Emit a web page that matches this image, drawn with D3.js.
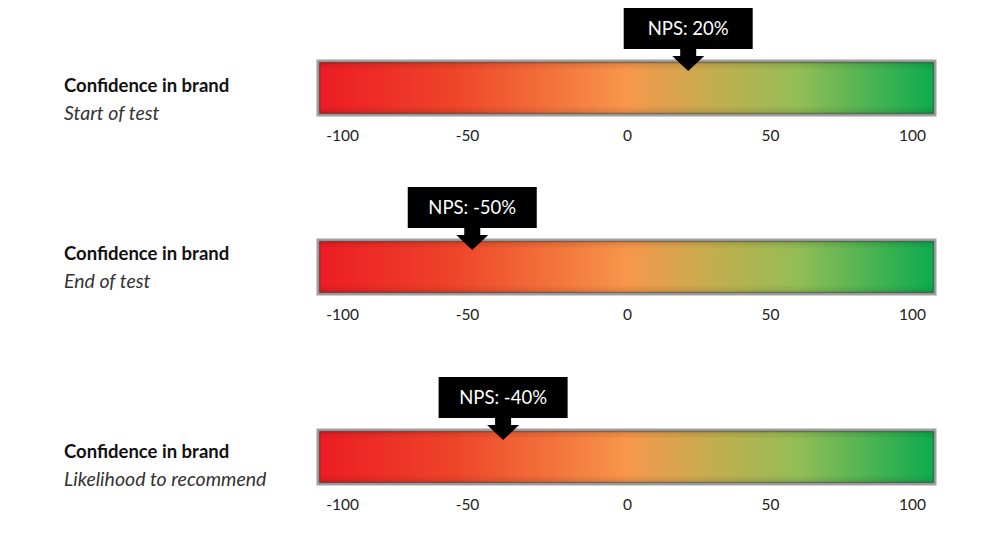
<!DOCTYPE html>
<html>
<head>
<meta charset="utf-8">
<script src="https://cdn.jsdelivr.net/npm/d3@7"></script>
<style>
  body { margin: 0; background: #fff; }
  svg { display: block; font-family: Lato, "Open Sans", sans-serif; }
</style>
</head>
<body>
<svg id="canvas"></svg>
<script>
// data
const titles = ['Confidence in brand', 'Confidence in brand', 'Confidence in brand'];
const subtitles = ['Start of test', 'End of test', 'Likelihood to recommend'];
const npsValues = [20, -50, -40];
const tickValues = [-100, -50, 0, 50, 100];

// layout
let w = 1000;
let h = 542;
const barLeft = 318, barRight = 935, barH = 54;
const rowTop = d3.scaleOrdinal().domain([0, 1, 2]).range([61, 240, 430]);
const titleY = d3.scaleOrdinal().domain([0, 1, 2]).range([92, 260, 458]);

let canvas = d3.select('#canvas').attr('width', w).attr('height', h);

// marker scale follows the bar; tick labels were hand placed in the original
let xScale = d3.scaleLinear().domain([-100, 100]).range([barLeft, barRight]);
let labelScale = d3.scaleLinear().domain(tickValues).range([342, 467, 627, 770, 912]);

// gradient red -> orange -> green
let defs = canvas.append('defs');
let grad = defs.append('linearGradient').attr('id', 'npsGrad')
  .attr('x1', '0%').attr('x2', '100%').attr('y1', '0%').attr('y2', '0%');
[[0, '#ec1c24'], [0.22, '#ee4429'], [0.5, '#f7964a'], [0.64, '#c4ae4f'],
 [0.78, '#92bd56'], [1, '#0bab4f']].forEach(s => {
  grad.append('stop').attr('offset', s[0]).attr('stop-color', s[1]);
});
let shade = defs.append('linearGradient').attr('id', 'shade')
  .attr('x1', '0%').attr('x2', '0%').attr('y1', '0%').attr('y2', '100%');
[[0, 0.12], [0.15, 0], [0.85, 0], [1, 0.12]].forEach(s => {
  shade.append('stop').attr('offset', s[0]).attr('stop-color', '#000').attr('stop-opacity', s[1]);
});

let rows = canvas.selectAll('g.row')
  .data(npsValues)
  .enter()
  .append('g')
  .attr('class', 'row');

rows.each(function(v, i) {
  let g = d3.select(this);
  let top = rowTop(i);

  // labels on the left
  g.append('text')
    .attr('x', 64).attr('y', titleY(i))
    .attr('font-size', 18.5).attr('font-weight', 'bold').attr('fill', '#111')
    .text(titles[i]);
  g.append('text')
    .attr('x', 64).attr('y', titleY(i) + 28)
    .attr('font-size', 19.5).attr('font-style', 'italic').attr('fill', '#333')
    .text(subtitles[i]);

  // bar
  g.append('rect')
    .attr('x', barLeft).attr('y', top)
    .attr('width', barRight - barLeft).attr('height', barH)
    .attr('fill', 'url(#npsGrad)')
    .attr('stroke', '#a0a0a0').attr('stroke-width', 3);
  g.append('rect')
    .attr('x', barLeft + 1.5).attr('y', top + 1.5)
    .attr('width', barRight - barLeft - 3).attr('height', barH - 3)
    .attr('fill', 'url(#shade)')
    .attr('stroke', 'rgba(0,0,0,0.3)').attr('stroke-width', 1.5);

  // tick labels
  let axis = d3.axisBottom(labelScale).tickValues(tickValues).tickSize(0).tickPadding(0)
    .tickFormat(d => String(d));
  let ax = g.append('g')
    .attr('transform', 'translate(0,' + (top + barH + 15) + ')')
    .call(axis);
  ax.select('.domain').remove();
  ax.selectAll('text')
    .attr('font-family', 'Lato, "Open Sans", sans-serif')
    .attr('font-size', 15.5).attr('fill', '#222');

  // callout
  let cx = xScale(v);
  let boxW = 129, boxH = 41;
  let boxTop = top - 53;
  let boxBot = boxTop + boxH;
  let tipY = top + 10;
  g.append('rect')
    .attr('x', cx - boxW / 2).attr('y', boxTop)
    .attr('width', boxW).attr('height', boxH)
    .attr('fill', '#000');
  g.append('path')
    .attr('d', d3.line()([
      [cx - 8, boxBot - 1], [cx + 8, boxBot - 1], [cx + 8, boxBot + 7],
      [cx + 16, boxBot + 7], [cx, tipY], [cx - 16, boxBot + 7], [cx - 8, boxBot + 7]
    ]) + 'Z')
    .attr('fill', '#000');
  g.append('text')
    .attr('x', cx).attr('y', boxTop + 27)
    .attr('text-anchor', 'middle')
    .attr('font-size', 18.5).attr('fill', '#fff')
    .text('NPS: ' + v + '%');
});
</script>
</body>
</html>
